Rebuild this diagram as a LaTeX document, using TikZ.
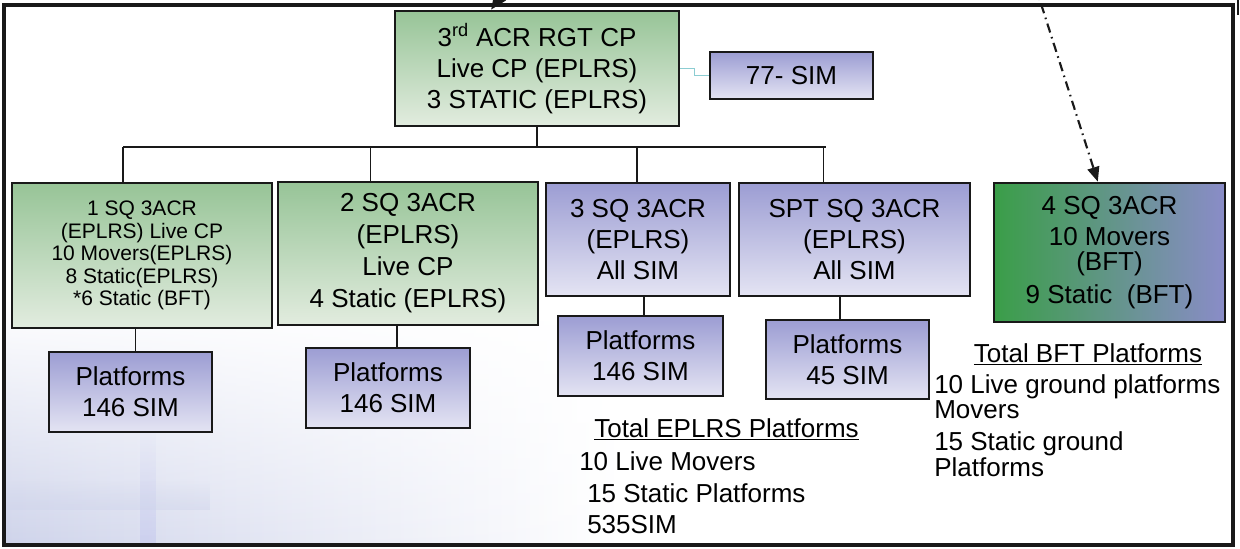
\documentclass[tikz,border=0pt]{standalone}
\usepackage{fontspec}
\setmainfont{Liberation Sans}
\usetikzlibrary{arrows.meta,calc,fadings}

\definecolor{gtop}{RGB}{151,196,151}
\definecolor{gbot}{RGB}{226,236,223}
\definecolor{btop}{RGB}{156,157,211}
\definecolor{bbot}{RGB}{228,228,243}
\definecolor{fgreen}{RGB}{58,158,72}
\definecolor{flav}{RGB}{138,140,200}
\definecolor{linkc}{RGB}{140,205,210}
\definecolor{hazec}{RGB}{206,211,234}
\definecolor{edge}{RGB}{25,25,25}

\tikzfading[name=fadeup, top color=transparent!100, bottom color=transparent!0]

\begin{document}
\begin{tikzpicture}[x=0.75pt,y=-0.75pt,
  box/.style={draw=edge, line width=2pt, inner sep=0pt, align=center,
              font=\fontsize{19.5}{23.25}\selectfont},
  gbox/.style={box, top color=gtop, bottom color=gbot},
  bbox/.style={box, top color=btop, bottom color=bbot},
  wire/.style={draw=edge, line width=1.1pt},
  txt/.style={inner sep=0pt, font=\fontsize{19.5}{23.25}\selectfont},
]
\useasboundingbox (0,0) rectangle (1240,549);
\clip (0,0) rectangle (1240,549);

% soft backdrop in the lower left
\shade[left color=hazec, right color=white, path fading=fadeup] (4,300) rectangle (620,545);
\fill[hazec!85!blue, opacity=0.3, path fading=fadeup] (140,420) rectangle (156,545);
\fill[hazec, opacity=0.45, path fading=fadeup] (4,480) rectangle (210,510);

% outer frame
\draw[edge, line width=2.4pt] (4,5) rectangle (1233,545);
\draw[edge, line width=1pt] (1238,0) -- (1238,15);

% regiment level
\node[gbox, minimum width=213pt, minimum height=86.25pt] (root) at (537,68.5)
  {3\textsuperscript{rd} ACR RGT CP\\Live CP (EPLRS)\\3 STATIC (EPLRS)};
\node[bbox, minimum width=122.25pt, minimum height=35.25pt] (sim77) at (791.5,75.5) {77- SIM};

% squadron level
\node[gbox, minimum width=195pt, minimum height=108.75pt,
      font=\fontsize{15.75}{16.9}\selectfont] (sq1) at (142,255.5)
  {1 SQ 3ACR\\(EPLRS) Live CP\\10 Movers(EPLRS)\\8 Static(EPLRS)\\*6 Static (BFT)};
\node[gbox, minimum width=195pt, minimum height=107.25pt,
      font=\fontsize{19.5}{24}\selectfont] (sq2) at (408,253.5)
  {2 SQ 3ACR\\(EPLRS)\\Live CP\\4 Static (EPLRS)};
\node[bbox, minimum width=138pt, minimum height=84.75pt] (sq3) at (638,239.5)
  {3 SQ 3ACR\\(EPLRS)\\All SIM};
\node[bbox, minimum width=173.25pt, minimum height=84.75pt] (spt) at (854.5,239.5)
  {SPT SQ 3ACR\\(EPLRS)\\All SIM};
\node[box, left color=fgreen, right color=flav, minimum width=173.25pt,
      minimum height=104.25pt] (sq4) at (1109.5,252.5)
  {4 SQ 3ACR\\10 Movers\\[-4.5pt](BFT)\\[1pt]9 Static~~(BFT)};

% platform boxes
\node[bbox, minimum width=122.25pt, minimum height=60pt] (p1) at (130.5,392) {Platforms\\146 SIM};
\node[bbox, minimum width=123pt, minimum height=60pt] (p2) at (388,388) {Platforms\\146 SIM};
\node[bbox, minimum width=123.75pt, minimum height=60pt] (p3) at (640.5,356) {Platforms\\146 SIM};
\node[bbox, minimum width=122.25pt, minimum height=59.25pt] (p4) at (847.5,359.5) {Platforms\\45 SIM};

% totals
\node[txt, anchor=base] (totE) at (726.5,437) {\underline{Total EPLRS Platforms}};
\node[txt, anchor=base west] (totE1) at (579,470) {10 Live Movers};
\node[txt, anchor=base west] (totE2) at (587,502) {15 Static Platforms};
\node[txt, anchor=base west] (totE3) at (587,533) {535SIM};

\node[txt, anchor=base] (totB) at (1088,362) {\underline{Total BFT Platforms}};
\node[txt, anchor=base west] (totB1) at (934,393) {10 Live ground platforms};
\node[txt, anchor=base west] (totB2) at (934,418) {Movers};
\node[txt, anchor=base west] (totB3) at (934,450) {15 Static ground};
\node[txt, anchor=base west] (totB4) at (934,476) {Platforms};

% tree connectors
\coordinate (busL) at (123,147);
\coordinate (busR) at (826,147);
\draw[wire] (busL) -- (busR);
\draw[wire] (root.south) -- (root.south |- busL);
\coordinate (d1) at ($(sq1.north west)!0.427!(sq1.north east)$);
\coordinate (d2) at ($(sq2.north west)!0.358!(sq2.north east)$);
\coordinate (d3) at ($(sq3.north west)!0.495!(sq3.north east)$);
\coordinate (d4) at ($(spt.north west)!0.368!(spt.north east)$);
\foreach \d in {d1,d2,d3,d4} \draw[wire] (\d |- busL) -- (\d);

\coordinate (u1) at ($(p1.north west)!0.53!(p1.north east)$);
\coordinate (u2) at ($(p2.north west)!0.555!(p2.north east)$);
\coordinate (u3) at ($(p3.north west)!0.52!(p3.north east)$);
\coordinate (u4) at ($(p4.north west)!0.454!(p4.north east)$);
\draw[wire] (u1) -- (u1 |- sq1.south);
\draw[wire] (u2) -- (u2 |- sq2.south);
\draw[wire] (u3) -- (u3 |- sq3.south);
\draw[wire] (u4) -- (u4 |- spt.south);

% link to the simulation cell
\draw[linkc, line width=1pt] (root.east) -- ++(14,0) |- (sim77.west);

% incoming links from above
\coordinate (inA) at (532,-50);
\coordinate (inB) at (1035,-15);
\coordinate (tipA) at ($(root.north west)!0.34!(root.north east)$);
\coordinate (tipB) at ($(sq4.north west)!0.45!(sq4.north east)$);
\draw[edge, line width=2pt, -{Triangle[length=12pt,width=10pt]}] (inA) -- (tipA);
\draw[edge, line width=1.6pt, dash pattern=on 7pt off 3.5pt on 1.2pt off 3.5pt,
      -{Triangle[length=11pt,width=9pt]}] (inB) -- (tipB);
\end{tikzpicture}
\end{document}
